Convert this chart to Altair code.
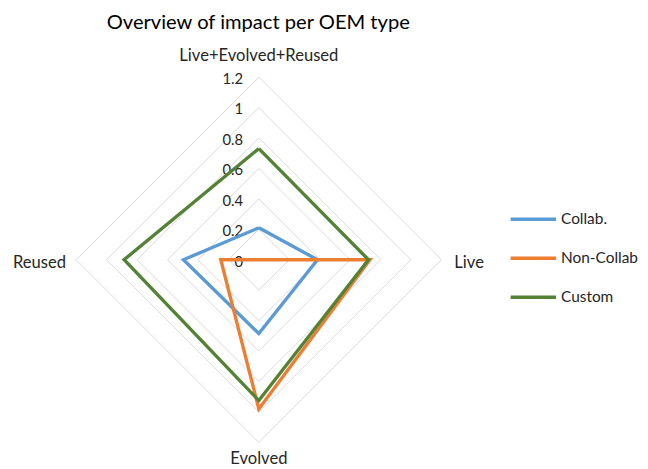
import altair as alt
import pandas as pd

# ---- data ----
axes_names = ["Live+Evolved+Reused", "Live", "Evolved", "Reused"]
series_names = ["Collab.", "Non-Collab", "Custom"]
collab = [0.21, 0.385, 0.485, 0.495]
non_collab = [0.0, 0.73, 0.98, 0.25]
custom = [0.73, 0.72, 0.925, 0.885]
series_colors = ["#5B9BD5", "#ED7D31", "#548235"]
tick_values = [0, 0.2, 0.4, 0.6, 0.8, 1.0, 1.2]
tick_labels = ["0", "0.2", "0.4", "0.6", "0.8", "1", "1.2"]
r_max = 1.2

FONT = "Lato"
TXT = "#262626"

# ---- tables ----
rows = []
for name, vals in zip(series_names, [collab, non_collab, custom]):
    for i in range(len(axes_names) + 1):
        k = i % len(axes_names)
        rows.append({"series": name, "k": k, "ord": i, "v": vals[k]})
series_df = pd.DataFrame(rows)

grid_rows = []
for lv in tick_values[1:]:
    for i in range(len(axes_names) + 1):
        grid_rows.append({"level": lv, "k": i % len(axes_names), "ord": i, "v": lv})
grid_df = pd.DataFrame(grid_rows)

tick_df = pd.DataFrame({"v": tick_values, "label": tick_labels, "k": 0})

label_df = pd.DataFrame({"label": axes_names, "k": list(range(len(axes_names))), "v": r_max})

polar = dict(
    px="datum.v * sin(datum.k * PI / 2)",
    py="datum.v * cos(datum.k * PI / 2)",
)

xs = alt.Scale(domain=[-1.6476, 2.5037], nice=False, zero=False)
ys = alt.Scale(domain=[-1.3557, 1.6346], nice=False, zero=False)
X = alt.X("px:Q", scale=xs, axis=None)
Y = alt.Y("py:Q", scale=ys, axis=None)

grid = alt.Chart(grid_df).transform_calculate(**polar).mark_line(
    color="#d9d9d9", strokeWidth=1
).encode(x=X, y=Y, detail="level:N", order="ord:Q")

ticks = alt.Chart(tick_df).transform_calculate(**polar).mark_text(
    align="right", baseline="alphabetic", dx=-16, dy=7, font=FONT, fontSize=15, color=TXT
).encode(x=X, y=Y, text="label:N")

lines = alt.Chart(series_df).transform_calculate(**polar).mark_line(
    strokeWidth=3.4, strokeJoin="miter"
).encode(
    x=X, y=Y, order="ord:Q",
    color=alt.Color(
        "series:N",
        scale=alt.Scale(domain=series_names, range=series_colors),
        sort=series_names,
        legend=alt.Legend(
            title=None, orient="none", legendX=507, legendY=186,
            symbolType="stroke", symbolSize=2116, symbolStrokeWidth=3.5,
            labelFont=FONT, labelFontSize=15.6, labelColor=TXT,
            rowPadding=5.5, labelOffset=3, labelLimit=300,
        ),
    ),
)

def axis_label(idx, align, dx, dy):
    return alt.Chart(label_df[label_df.k == idx]).transform_calculate(**polar).mark_text(
        align=align, baseline="alphabetic", dx=dx, dy=dy, font=FONT, fontSize=16.8, color=TXT
    ).encode(x=X, y=Y, text="label:N")

lab_top = axis_label(0, "center", 0, -16.7)
lab_right = axis_label(1, "left", 13, 8)
lab_bottom = axis_label(2, "center", 0, 21.5)
lab_left = axis_label(3, "right", -10.3, 8.3)

chart = alt.layer(grid, ticks, lines, lab_top, lab_right, lab_bottom, lab_left).properties(
    width=640, height=461,
    title=alt.TitleParams(
        "Overview of impact per OEM type", font=FONT, fontSize=20.4, fontWeight="normal",
        color="#000000", anchor="start", dx=100, dy=-7, offset=-30,
    ),
    autosize=alt.AutoSizeParams(type="none"),
    padding=0,
).configure_view(stroke=None)

chart.save("out.html", embed_options={"renderer": "svg", "actions": False})
